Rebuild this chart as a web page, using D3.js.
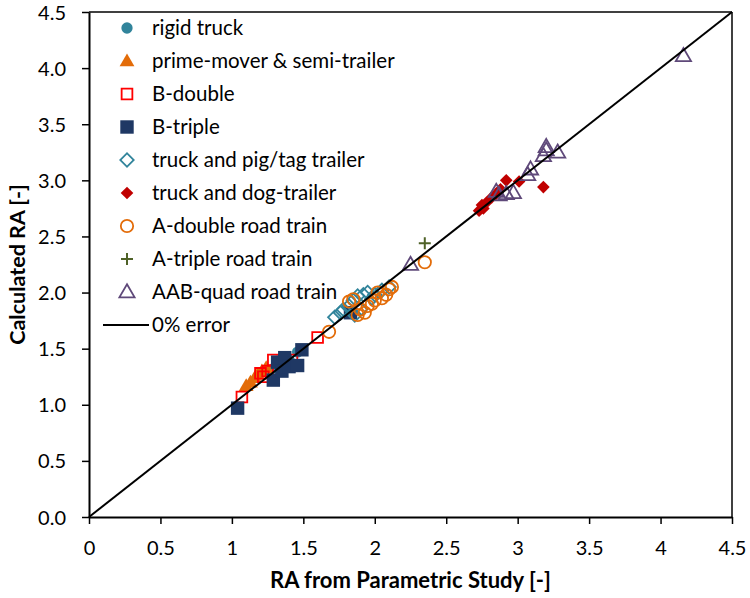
<!DOCTYPE html>
<html><head><meta charset="utf-8">
<script src="https://cdn.jsdelivr.net/npm/d3@7"></script>
<style>body{margin:0;background:#fff}text{font-family:Lato,"Open Sans",sans-serif}</style>
</head><body><svg id="c" width="750" height="598"></svg>
<script>
const xTicks=[0,0.5,1,1.5,2,2.5,3,3.5,4,4.5];
const yTicks=[0,0.5,1,1.5,2,2.5,3,3.5,4,4.5];
const seriesNames=["rigid truck","prime-mover & semi-trailer","B-double","B-triple","truck and pig/tag trailer","truck and dog-trailer","A-double road train","A-triple road train","AAB-quad road train"];
const rigidTruck=[[1.30,1.33],[1.40,1.40],[1.46,1.47]];
const primeMover=[[1.10,1.17],[1.13,1.20],[1.16,1.24],[1.18,1.27],[1.21,1.30],[1.24,1.33]];
const bDouble=[[1.07,1.07],[1.20,1.28],[1.22,1.25],[1.25,1.30],[1.29,1.40],[1.35,1.38],[1.42,1.40],[1.60,1.60]];
const bTriple=[[1.04,0.97],[1.29,1.22],[1.32,1.38],[1.35,1.30],[1.37,1.42],[1.40,1.34],[1.46,1.35],[1.49,1.49],[1.83,1.82]];
const pigTag=[[1.72,1.78],[1.76,1.82],[1.78,1.85],[1.82,1.88],[1.85,1.93],[1.88,1.97],[1.92,1.98],[1.95,2.00],[1.98,1.95],[1.86,1.80],[1.90,1.85],[2.00,1.98],[2.05,2.02],[2.10,2.05]];
const dogTrailer=[[2.73,2.73],[2.75,2.78],[2.78,2.80],[2.82,2.85],[2.85,2.88],[2.88,2.92],[2.92,3.00],[3.01,2.99],[3.18,2.94],[2.76,2.75]];
const aDouble=[[1.68,1.65],[1.82,1.92],[1.85,1.94],[1.88,1.80],[1.90,1.85],[1.93,1.82],[1.95,1.88],[1.98,1.90],[2.00,1.93],[2.02,2.00],[2.05,1.95],[2.08,1.98],[2.10,2.03],[2.12,2.05],[2.35,2.27]];
const aTriple=[[2.35,2.44]];
const aabQuad=[[2.25,2.25],[2.85,2.90],[2.87,2.87],[2.92,2.88],[2.97,2.89],[3.07,3.05],[3.09,3.10],[3.18,3.22],[3.20,3.27],[3.20,3.30],[3.28,3.25],[4.16,4.11]];

const svg=d3.select("#c");
const x=d3.scaleLinear().domain([0,4.5]).range([89,732]);
const y=d3.scaleLinear().domain([0,4.5]).range([517,12]);

svg.append("line").attr("x1",89).attr("x2",732).attr("y1",12).attr("y2",12).attr("stroke","#000").attr("stroke-width",1.5);
svg.append("line").attr("x1",732).attr("x2",732).attr("y1",12).attr("y2",517).attr("stroke","#000").attr("stroke-width",1.5);

const xa=svg.append("g").attr("transform","translate(0,517)").call(d3.axisBottom(x).tickValues(xTicks).tickFormat(d=>String(d)).tickSize(7).tickSizeOuter(0));
const ya=svg.append("g").attr("transform","translate(89,0)").call(d3.axisLeft(y).tickValues(yTicks).tickFormat(d3.format(".1f")).tickSize(7).tickSizeOuter(0));
[xa,ya].forEach(a=>{a.select(".domain").attr("stroke","#000").attr("stroke-width",2);a.selectAll(".tick line").attr("stroke","#000").attr("stroke-width",1.5);a.selectAll("text").attr("font-size",20).attr("fill","#000").style("font-family","Lato,'Open Sans',sans-serif");});
xa.selectAll("text").attr("y",0).attr("dy","0").attr("transform","translate(0,38)");
ya.selectAll("text").attr("x",-23).attr("dy","0.35em");

svg.append("text").attr("x",x(2.25)).attr("y",588).attr("text-anchor","middle").attr("font-size",22).attr("font-weight","bold").text("RA from Parametric Study [-]");
svg.append("text").attr("transform","translate(25,"+y(2.25)+") rotate(-90)").attr("text-anchor","middle").attr("font-size",21.5).attr("font-weight","bold").text("Calculated RA [-]");

const defs=[
 {d:rigidTruck,sym:d3.symbolCircle,size:100,fill:"#31849B",stroke:"none"},
 {d:primeMover,sym:d3.symbolTriangle,size:95,fill:"#E36C09",stroke:"none"},
 {d:bDouble,sym:d3.symbolSquare,size:115,fill:"none",stroke:"#FF0000"},
 {d:bTriple,sym:d3.symbolSquare,size:180,fill:"#1F3864",stroke:"none"},
 {d:pigTag,sym:d3.symbolDiamond,size:90,fill:"none",stroke:"#31849B",rot:45},
 {d:dogTrailer,sym:d3.symbolSquare,size:80,fill:"#C00000",stroke:"none",rot:45},
 {d:aDouble,sym:d3.symbolCircle,size:120,fill:"none",stroke:"#E36C09"},
 {d:aTriple,sym:d3.symbolCross,size:0,fill:"none",stroke:"#4F6228",plus:true},
 {d:aabQuad,sym:d3.symbolTriangle,size:100,fill:"none",stroke:"#5F497A"}
];
function drawSym(g,s,cx,cy){
  if(s.plus){
    g.append("path").attr("d",`M${cx-6},${cy}H${cx+6}M${cx},${cy-6}V${cy+6}`).attr("stroke",s.stroke).attr("stroke-width",2);
    return;
  }
  let sy=s.sym;
  if(s.rot===45 && s.sym===d3.symbolDiamond){sy=d3.symbolSquare;}
  g.append("path").attr("d",d3.symbol().type(sy).size(s.size)())
   .attr("transform",`translate(${cx},${cy})`+(s.rot?` rotate(45)`:"")+(s.sym===d3.symbolTriangle?" translate(0,1)":""))
   .attr("fill",s.fill).attr("stroke",s.stroke).attr("stroke-width",1.8);
}
const order=[0,1,2,3,4,6,5,7,8];
order.forEach(i=>{const s=defs[i];const g=svg.append("g");s.d.forEach(p=>drawSym(g,s,x(p[0]),y(p[1])));});

svg.append("line").attr("x1",x(0)).attr("y1",y(0)).attr("x2",x(4.5)).attr("y2",y(4.5)).attr("stroke","#000").attr("stroke-width",2);

const lg=svg.append("g");
seriesNames.forEach((n,i)=>{
  const ly=28+i*33;
  drawSym(lg,defs[i],127,ly);
  lg.append("text").attr("x",152).attr("y",ly).attr("dy","0.36em").attr("font-size",20.5).text(n);
});
lg.append("line").attr("x1",103).attr("x2",149).attr("y1",325).attr("y2",325).attr("stroke","#000").attr("stroke-width",2);
lg.append("text").attr("x",152).attr("y",325).attr("dy","0.36em").attr("font-size",20.5).text("0% error");
</script></body></html>
